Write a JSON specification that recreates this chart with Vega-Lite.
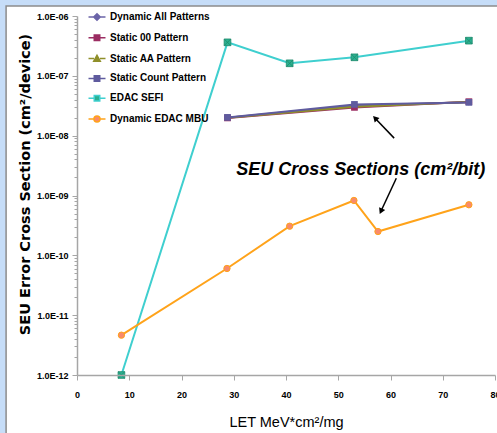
{
  "$schema": "https://vega.github.io/schema/vega-lite/v6.json",
  "width": 418,
  "height": 359,
  "autosize": "none",
  "padding": {"left": 77, "top": 16, "right": 2, "bottom": 58},
  "background": "#c6ddf8",
  "config": {"view": {"stroke": null}, "font": "Liberation Sans"},
  "datasets": {
    "pts": [
      {"series": "Dynamic All Patterns", "LET": 28.8, "xs": 2.0e-8},
      {"series": "Dynamic All Patterns", "LET": 53.1, "xs": 3.2e-8},
      {"series": "Dynamic All Patterns", "LET": 75.0, "xs": 3.62e-8},
      {"series": "Static 00 Pattern", "LET": 28.8, "xs": 1.98e-8},
      {"series": "Static 00 Pattern", "LET": 53.1, "xs": 2.97e-8},
      {"series": "Static 00 Pattern", "LET": 75.0, "xs": 3.7e-8},
      {"series": "Static AA Pattern", "LET": 28.8, "xs": 1.99e-8},
      {"series": "Static AA Pattern", "LET": 53.1, "xs": 3.05e-8},
      {"series": "Static AA Pattern", "LET": 75.0, "xs": 3.65e-8},
      {"series": "Static Count Pattern", "LET": 28.8, "xs": 2.02e-8},
      {"series": "Static Count Pattern", "LET": 53.1, "xs": 3.33e-8},
      {"series": "Static Count Pattern", "LET": 75.0, "xs": 3.6e-8},
      {"series": "EDAC SEFI", "LET": 8.5, "xs": 1.0e-12},
      {"series": "EDAC SEFI", "LET": 28.8, "xs": 3.63e-7},
      {"series": "EDAC SEFI", "LET": 40.7, "xs": 1.62e-7},
      {"series": "EDAC SEFI", "LET": 53.1, "xs": 2.04e-7},
      {"series": "EDAC SEFI", "LET": 75.0, "xs": 3.87e-7},
      {"series": "Dynamic EDAC MBU", "LET": 8.5, "xs": 4.63e-12},
      {"series": "Dynamic EDAC MBU", "LET": 28.7, "xs": 6.03e-11},
      {"series": "Dynamic EDAC MBU", "LET": 40.7, "xs": 3.07e-10},
      {"series": "Dynamic EDAC MBU", "LET": 53.0, "xs": 8.26e-10},
      {"series": "Dynamic EDAC MBU", "LET": 57.6, "xs": 2.5e-10},
      {"series": "Dynamic EDAC MBU", "LET": 75.0, "xs": 7.0e-10}
    ]
  },
  "layer": [
    {
      "data": {"values": [{}]},
      "mark": {"type": "rect", "fill": "white", "stroke": "#8c8c8c", "strokeWidth": 1.5, "clip": false},
      "encoding": {
        "x": {
          "datum": -13.57, "type": "quantitative",
          "scale": {"domain": [0, 80], "nice": false, "zero": false},
          "axis": {
            "title": "LET MeV*cm²/mg",
            "values": [0, 10, 20, 30, 40, 50, 60, 70, 80],
            "labelFlush": false,
            "grid": false,
            "zindex": 1,
            "domainColor": "#a6a6a6",
            "domainWidth": 1.5,
            "tickColor": "#a6a6a6",
            "tickSize": 5,
            "labelPadding": 10,
            "labelFont": "Liberation Sans",
            "labelFontWeight": "bold",
            "labelFontSize": 9,
            "labelColor": "#000",
            "titleFont": "Liberation Sans",
            "titleFontWeight": "normal",
            "titleFontSize": 14.5,
            "titleColor": "#000",
            "titlePadding": 16
          }
        },
        "x2": {"datum": 100},
        "y": {
          "datum": 1.469e-6, "type": "quantitative",
          "scale": {"type": "log", "domain": [1e-12, 1e-6], "nice": false},
          "axis": {
            "title": "SEU Error Cross Section (cm²/device)",
            "values": [1e-12, 2e-12, 3e-12, 4e-12, 5e-12, 6e-12, 7e-12, 8e-12, 9e-12,
                       1e-11, 2e-11, 3e-11, 4e-11, 5e-11, 6e-11, 7e-11, 8e-11, 9e-11,
                       1e-10, 2e-10, 3e-10, 4e-10, 5e-10, 6e-10, 7e-10, 8e-10, 9e-10,
                       1e-9, 2e-9, 3e-9, 4e-9, 5e-9, 6e-9, 7e-9, 8e-9, 9e-9,
                       1e-8, 2e-8, 3e-8, 4e-8, 5e-8, 6e-8, 7e-8, 8e-8, 9e-8,
                       1e-7, 2e-7, 3e-7, 4e-7, 5e-7, 6e-7, 7e-7, 8e-7, 9e-7, 1e-6],
            "labelExpr": "abs(log(datum.value)/LN10 - round(log(datum.value)/LN10)) < 0.001 ? '1.0E-' + (-round(log(datum.value)/LN10) < 10 ? '0' : '') + (-round(log(datum.value)/LN10)) : ''",
            "grid": false,
            "zindex": 1,
            "domainColor": "#a6a6a6",
            "domainWidth": 1.5,
            "tickColor": "#a6a6a6",
            "tickSize": {"condition": {"test": "abs(log(datum.value)/LN10 - round(log(datum.value)/LN10)) < 0.001", "value": 5}, "value": 3},
            "labelPadding": 4,
            "labelFont": "Liberation Sans",
            "labelFontWeight": "bold",
            "labelFontSize": 9,
            "labelColor": "#000",
            "titleFont": "DejaVu Sans",
            "titleFontWeight": "bold",
            "titleFontSize": 14.5,
            "titleColor": "#000",
            "titleX": -48,
            "titleY": 168,
            "titleBaseline": "alphabetic"
          }
        },
        "y2": {"datum": 1e-14}
      }
    },
    {
      "data": {"name": "pts"},
      "mark": {"type": "line", "strokeWidth": 2},
      "encoding": {
        "x": {"field": "LET", "type": "quantitative"},
        "y": {"field": "xs", "type": "quantitative"},
        "stroke": {
          "field": "series", "type": "nominal",
          "scale": {
            "domain": ["Dynamic All Patterns", "Static 00 Pattern", "Static AA Pattern", "Static Count Pattern", "EDAC SEFI", "Dynamic EDAC MBU"],
            "range": ["#6b64a8", "#9b2d62", "#8f8f2a", "#5f5b9e", "#3fcfcf", "#ffa31a"]
          }
        }
      }
    },
    {
      "data": {"name": "pts"},
      "transform": [{"filter": "datum.series == 'Static AA Pattern'"}],
      "mark": {"type": "point", "shape": "triangle-up", "filled": true, "opacity": 1, "fill": "#8f8f2a", "size": 40},
      "encoding": {"x": {"field": "LET", "type": "quantitative"}, "y": {"field": "xs", "type": "quantitative"}}
    },
    {
      "data": {"name": "pts"},
      "transform": [{"filter": "datum.series == 'Dynamic All Patterns'"}],
      "mark": {"type": "point", "shape": "diamond", "filled": true, "opacity": 1, "fill": "#6b64a8", "size": 45},
      "encoding": {"x": {"field": "LET", "type": "quantitative"}, "y": {"field": "xs", "type": "quantitative"}}
    },
    {
      "data": {"name": "pts"},
      "transform": [{"filter": "datum.series == 'Static 00 Pattern'"}],
      "mark": {"type": "point", "shape": "square", "filled": true, "opacity": 1, "fill": "#9b2d62", "size": 45},
      "encoding": {"x": {"field": "LET", "type": "quantitative"}, "y": {"field": "xs", "type": "quantitative"}}
    },
    {
      "data": {"name": "pts"},
      "transform": [{"filter": "datum.series == 'Static Count Pattern'"}],
      "mark": {"type": "point", "shape": "square", "filled": true, "opacity": 1, "fill": "#5f5b9e", "size": 45},
      "encoding": {"x": {"field": "LET", "type": "quantitative"}, "y": {"field": "xs", "type": "quantitative"}}
    },
    {
      "data": {"name": "pts"},
      "transform": [{"filter": "datum.series == 'EDAC SEFI'"}],
      "mark": {"type": "point", "shape": "M-1,-1H1V1H-1Z M-1,-1L1,1 M1,-1L-1,1", "filled": true, "opacity": 1, "fill": "#2bb090", "stroke": "#1e8a6c", "strokeWidth": 0.8, "size": 45},
      "encoding": {"x": {"field": "LET", "type": "quantitative"}, "y": {"field": "xs", "type": "quantitative"}}
    },
    {
      "data": {"name": "pts"},
      "transform": [{"filter": "datum.series == 'Dynamic EDAC MBU'"}],
      "mark": {"type": "point", "shape": "circle", "filled": true, "opacity": 1, "fill": "#f98a6b", "stroke": "#ffa31a", "strokeWidth": 1, "size": 40},
      "encoding": {"x": {"field": "LET", "type": "quantitative"}, "y": {"field": "xs", "type": "quantitative"}}
    },
    {
      "data": {"values": [{}]},
      "mark": {"type": "rule", "stroke": "#000", "strokeWidth": 1.5},
      "encoding": {
        "x": {"datum": 60.7, "type": "quantitative"},
        "y": {"datum": 9.1e-9, "type": "quantitative"},
        "x2": {"datum": 57.05},
        "y2": {"datum": 1.96e-8}
      }
    },
    {
      "data": {"values": [{}]},
      "mark": {"type": "point", "shape": "triangle-up", "filled": true, "opacity": 1, "fill": "#000", "size": 45, "angle": 316},
      "encoding": {
        "x": {"datum": 57.05, "type": "quantitative"},
        "y": {"datum": 1.96e-8, "type": "quantitative"}
      }
    },
    {
      "data": {"values": [{}]},
      "mark": {"type": "rule", "stroke": "#000", "strokeWidth": 1.5},
      "encoding": {
        "x": {"datum": 61.11, "type": "quantitative"},
        "y": {"datum": 1.94e-9, "type": "quantitative"},
        "x2": {"datum": 58.17},
        "y2": {"datum": 5.45e-10}
      }
    },
    {
      "data": {"values": [{}]},
      "mark": {"type": "point", "shape": "triangle-up", "filled": true, "opacity": 1, "fill": "#000", "size": 45, "angle": 205},
      "encoding": {
        "x": {"datum": 58.17, "type": "quantitative"},
        "y": {"datum": 5.45e-10, "type": "quantitative"}
      }
    },
    {
      "data": {"values": [{"label": "SEU Cross Sections (cm²/bit)"}]},
      "mark": {"type": "text", "font": "Liberation Sans", "fontWeight": "bold", "fontStyle": "italic", "fontSize": 18, "align": "center", "baseline": "alphabetic", "fill": "#000"},
      "encoding": {
        "x": {"datum": 54.3, "type": "quantitative"},
        "y": {"datum": 2.2e-9, "type": "quantitative"},
        "text": {"field": "label", "type": "nominal"}
      }
    },
    {
      "data": {"name": "pts"},
      "transform": [{"filter": "false"}],
      "mark": {"type": "point", "filled": true, "opacity": 1, "strokeWidth": 2},
      "encoding": {
        "x": {"field": "LET", "type": "quantitative"},
        "y": {"field": "xs", "type": "quantitative"},
        "shape": {
          "field": "series", "type": "nominal",
          "scale": {
            "domain": ["Dynamic All Patterns", "Static 00 Pattern", "Static AA Pattern", "Static Count Pattern", "EDAC SEFI", "Dynamic EDAC MBU"],
            "range": [
              "M-3.1,0H-1.2M1.2,0H3.1M0,-1.2L1.2,0L0,1.2L-1.2,0Z",
              "M-3.1,0H-1M1,0H3.1M-1,-1H1V1H-1Z",
              "M-3.1,0H-1.1M1.1,0H3.1M0,-1.2L1.2,1H-1.2Z",
              "M-3.1,0H-1M1,0H3.1M-1,-1H1V1H-1Z",
              "M-3.1,0H-1M1,0H3.1M-1,-1H1V1H-1Z",
              "M-3.1,0H-1.1M1.1,0H3.1M1.1,0A1.1,1.1,0,1,1,-1.1,0A1.1,1.1,0,1,1,1.1,0Z"
            ]
          },
          "legend": {
            "title": null,
            "orient": "none",
            "legendX": 15,
            "legendY": -4,
            "padding": 0,
            "zindex": 1,
            "labelFont": "Liberation Sans",
            "labelFontWeight": "bold",
            "labelFontSize": 10,
            "labelColor": "#000",
            "symbolSize": 30,
            "symbolStrokeWidth": 1.5,
            "rowPadding": 7.8,
            "labelOffset": 8
          }
        },
        "fill": {
          "field": "series", "type": "nominal",
          "scale": {
            "domain": ["Dynamic All Patterns", "Static 00 Pattern", "Static AA Pattern", "Static Count Pattern", "EDAC SEFI", "Dynamic EDAC MBU"],
            "range": ["#6b64a8", "#9b2d62", "#8f8f2a", "#5f5b9e", "#2bb090", "#f98a6b"]
          }
        },
        "stroke": {"field": "series", "type": "nominal"}
      }
    }
  ]
}
